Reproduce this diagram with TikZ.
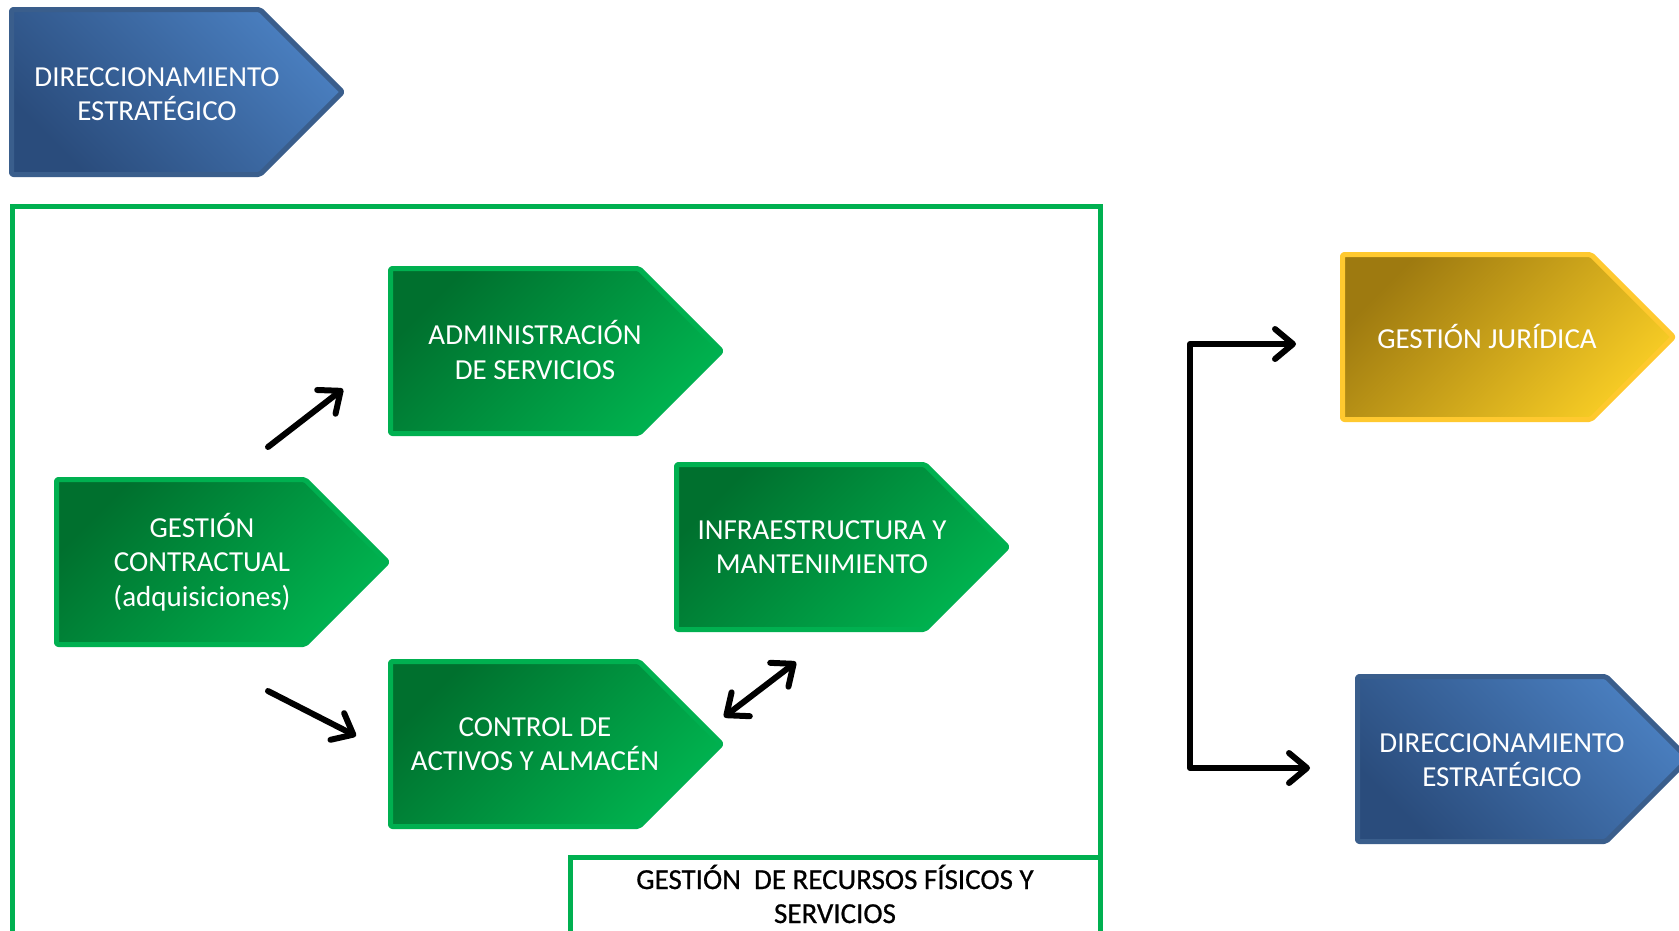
\documentclass[tikz,border=0pt]{standalone}
\usepackage{fontspec}
\setmainfont{Carlito}
\newfontfamily\titlefont{Carlito}[FakeBold=0.7]
\usetikzlibrary{arrows.meta}
\definecolor{gdark}{HTML}{00702E}
\definecolor{glight}{HTML}{00B34F}
\definecolor{gborder}{HTML}{00B050}
\definecolor{bdark}{HTML}{2A4C7C}
\definecolor{blight}{HTML}{4A7FC0}
\definecolor{bborder}{HTML}{3A5E8C}
\definecolor{ydark}{HTML}{9E7A10}
\definecolor{ylight}{HTML}{F8CD25}
\definecolor{yborder}{HTML}{FFC92F}
\newcommand\pentpath[3]{\path[#3] (#1+2.5,#2+2.5) -- (#1+251,#2+2.5) -- (#1+333.5,#2+85) -- (#1+251,#2+167.5) -- (#1+2.5,#2+167.5) -- cycle;}
\tikzset{
  pentbase/.style={line width=5pt, rounded corners=2pt, line join=round},
  greenpent/.style={pentbase, draw=gborder, top color=gdark, bottom color=glight, shading angle=45},
  bluepent/.style={pentbase, draw=bborder, top color=blight, bottom color=bdark, shading angle=-45},
  goldpent/.style={pentbase, draw=yborder, top color=ydark, bottom color=ylight, shading angle=45},
  lbl/.style={text=white, font=\fontsize{29}{34.5}\selectfont, align=center, inner sep=0pt},
  barb/.tip={Straight Barb[length=18pt,width=30pt,line cap=round,line join=round]},
  arr/.style={line width=6pt, line cap=round, line join=round, -barb},
  darr/.style={line width=6pt, line cap=round, line join=round, barb-barb}
}
\begin{document}
\begin{tikzpicture}[x=1pt,y=-1pt]
\useasboundingbox (0,0) rectangle (1679,930);
\fill[white] (0,0) rectangle (1679,930);
\clip (0,0) rectangle (1679,930);
% outer frame
\draw[gborder, line width=5pt] (12,206) rectangle (1100,960);
% shapes
\pentpath{9}{7}{bluepent}
\pentpath{388}{266}{greenpent}
\pentpath{54}{477}{greenpent}
\pentpath{674}{462}{greenpent}
\pentpath{388}{659}{greenpent}
\pentpath{1340}{252}{goldpent}
\pentpath{1355}{674}{bluepent}
% texts
\node[lbl] (dirA) at (157,94) {DIRECCIONAMIENTO\\ESTRATÉGICO};
\node[lbl] (admin) at (535,350) {ADMINISTRACIÓN\\DE SERVICIOS};
\node[lbl] (gest) at (202,562) {GESTIÓN\\CONTRACTUAL\\(adquisiciones)};
\node[lbl] (infra) at (822,547) {INFRAESTRUCTURA Y\\MANTENIMIENTO};
\node[lbl] (ctrl) at (535,744) {CONTROL DE\\ACTIVOS Y ALMACÉN};
\node[lbl] (jur) at (1487,336) {GESTIÓN JURÍDICA};
\node[lbl] (dirB) at (1502,760) {DIRECCIONAMIENTO\\ESTRATÉGICO};
% title box
\draw[gborder, line width=5pt, fill=white] (570,857) rectangle (1100,960);
\node[text=black, font=\titlefont\fontsize{29}{34}\selectfont, align=center, inner sep=0pt] (title) at (835,894) {GESTIÓN\ \ DE RECURSOS FÍSICOS Y\\SERVICIOS};
% arrow end points
\coordinate (a1s) at (268,447);
\coordinate (a1e) at (343,389);
\coordinate (a2s) at (268,691);
\coordinate (a2e) at (356,736);
\coordinate (a3s) at (724,717);
\coordinate (a3e) at (796,662);
\coordinate (bt) at (1296,344);
\coordinate (bc1) at (1190,344);
\coordinate (bc2) at (1190,768);
\coordinate (bb) at (1310,768);
\draw[arr] (a1s) -- (a1e);
\draw[arr] (a2s) -- (a2e);
\draw[darr] (a3s) -- (a3e);
\draw[darr] (bt) -- (bc1) -- (bc2) -- (bb);
\end{tikzpicture}
\end{document}
